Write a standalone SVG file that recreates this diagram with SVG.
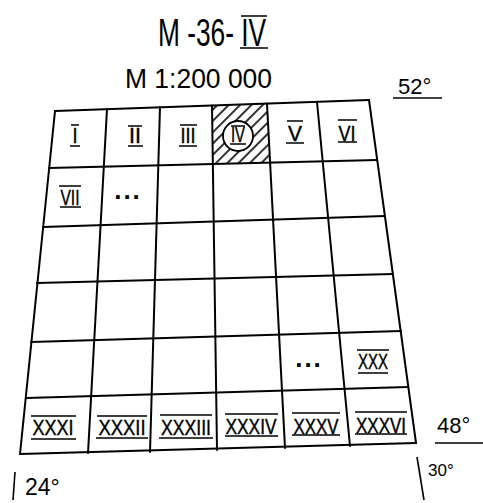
<svg xmlns="http://www.w3.org/2000/svg" width="483" height="503" viewBox="0 0 483 503">
<style>
.g{stroke:#000;stroke-width:2;fill:none;stroke-linecap:round}
.t{font-family:"Liberation Sans",Arial,sans-serif;fill:#000}
.r{font-family:"Liberation Sans",Arial,sans-serif;fill:#000;text-anchor:middle;font-size:22px;stroke:#000;stroke-width:0.4}
.d{font-family:"Liberation Sans",Arial,sans-serif;fill:#000;text-anchor:middle;font-size:26px;font-weight:bold;letter-spacing:2px}
.b{stroke:#000;stroke-width:1.6;fill:none}
</style>
<defs>
<pattern id="hatch" patternUnits="userSpaceOnUse" width="8" height="8" patternTransform="rotate(45)">
<line x1="4" y1="0" x2="4" y2="8" stroke="#000" stroke-width="1.6"/>
</pattern>
</defs>
<rect width="483" height="503" fill="#fff"/>

<g id="title">
<text class="t" x="158" y="46" font-size="38" textLength="108" lengthAdjust="spacingAndGlyphs">M -36- IV</text>
<path class="b" d="M241 16H267M240 48H268"/>
</g>
<g id="scale">
<text class="t" x="125" y="88" font-size="27" textLength="147" lengthAdjust="spacingAndGlyphs">M 1:200 000</text>
</g>

<g id="hatched-cell">
<polygon points="212,105.5 267,103.6 270,162.6 213,164" fill="url(#hatch)"/>
<circle cx="238" cy="136" r="15" fill="#fff" stroke="#000" stroke-width="1.8"/>
</g>

<g id="grid">
<path class="g" d="M55 111L369 100M49 168L377 160M43 227L385 216M37 283L393 274M31 342L401 331M26 398L408 387M20 454L416 443"/>
<path class="g" d="M55 111L20 454M107 109L88 453M160 107L150 452M212 105.5L217 450M267 103.6L285 448M317 102L350 446M369 100L416 443"/>
</g>

<g id="cell-I"><text class="r" x="75" y="143" textLength="5" lengthAdjust="spacingAndGlyphs">I</text><path class="b" d="M71 125H79M70 146H80"/></g>
<g id="cell-II"><text class="r" x="135" y="143" textLength="12" lengthAdjust="spacingAndGlyphs">II</text><path class="b" d="M128 126H142M128 146H143"/></g>
<g id="cell-III"><text class="r" x="188" y="143" textLength="15" lengthAdjust="spacingAndGlyphs">III</text><path class="b" d="M180 125H197M179 146H197"/></g>
<g id="cell-IV"><text class="r" x="238" y="142" font-size="20" textLength="14" lengthAdjust="spacingAndGlyphs">IV</text><path class="b" d="M231 126H245M230 144H246"/></g>
<g id="cell-V"><text class="r" x="295" y="141" textLength="14" lengthAdjust="spacingAndGlyphs">V</text><path class="b" d="M287 121H303M286 143H304"/></g>
<g id="cell-VI"><text class="r" x="347" y="141" textLength="17" lengthAdjust="spacingAndGlyphs">VI</text><path class="b" d="M338 120H357M338 142H357"/></g>
<g id="cell-VII"><text class="r" x="70" y="205" textLength="19" lengthAdjust="spacingAndGlyphs">VII</text><path class="b" d="M59 186H81M60 207H81"/></g>
<g id="cell-dots1"><text class="d" x="128" y="199">...</text></g>
<g id="cell-dots2"><text class="d" x="309" y="367">...</text></g>
<g id="cell-XXX"><text class="r" x="373" y="369" textLength="30" lengthAdjust="spacingAndGlyphs">XXX</text><path class="b" d="M357 350H389M358 373H388"/></g>

<g id="cell-XXXI"><text class="r" x="53" y="435" textLength="41" lengthAdjust="spacingAndGlyphs">XXXI</text><path class="b" d="M31 416H76M31 439H76"/></g>
<g id="cell-XXXII"><text class="r" x="122" y="435" textLength="47" lengthAdjust="spacingAndGlyphs">XXXII</text><path class="b" d="M97 416H147M96 438H148"/></g>
<g id="cell-XXXIII"><text class="r" x="186" y="435" textLength="50" lengthAdjust="spacingAndGlyphs">XXXIII</text><path class="b" d="M160 415H212M159 438H213"/></g>
<g id="cell-XXXIV"><text class="r" x="251" y="434" textLength="51" lengthAdjust="spacingAndGlyphs">XXXIV</text><path class="b" d="M225 414H278M225 436H278"/></g>
<g id="cell-XXXV"><text class="r" x="316" y="434" textLength="45" lengthAdjust="spacingAndGlyphs">XXXV</text><path class="b" d="M292 413H340M292 435H340"/></g>
<g id="cell-XXXVI"><text class="r" x="381" y="433" textLength="50" lengthAdjust="spacingAndGlyphs">XXXVI</text><path class="b" d="M355 412H407M355 434H407"/></g>

<g id="lat-52">
<text class="t" x="398" y="94" font-size="22">52°</text>
<path class="b" d="M393 98H442"/>
</g>
<g id="lat-48">
<text class="t" x="437" y="433" font-size="22">48°</text>
<path class="b" d="M435 443H483"/>
</g>
<g id="lon-24">
<path class="b" d="M15 472L13 500"/>
<text class="t" x="25" y="495" font-size="23">24°</text>
</g>
<g id="lon-30">
<path class="b" d="M417 457L424 500"/>
<text class="t" x="428" y="476" font-size="17">30°</text>
</g>
</svg>
